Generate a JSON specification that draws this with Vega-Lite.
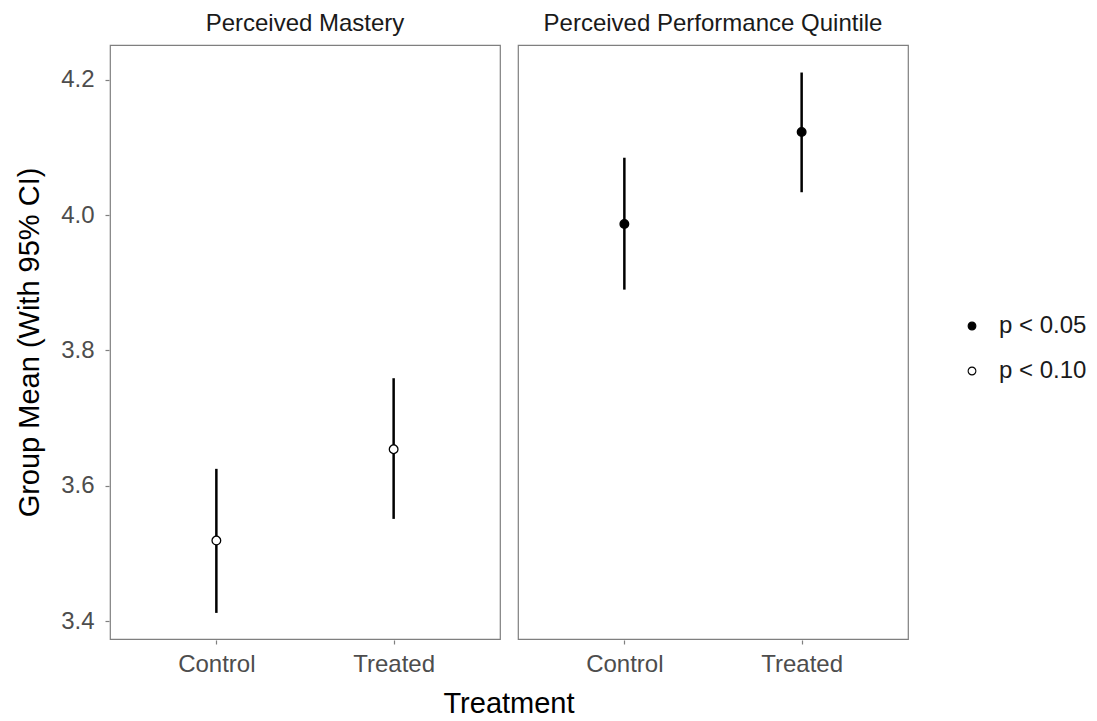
{
  "$schema": "https://vega.github.io/schema/vega-lite/v6.json",
  "background": "white",
  "padding": {"left": 15, "top": 12, "right": 5, "bottom": 5},
  "data": {
    "values": [
      {"facet": "Perceived Mastery", "treatment": "Control", "mean": 3.519, "lo": 3.412, "hi": 3.625, "sig": "p < 0.10"},
      {"facet": "Perceived Mastery", "treatment": "Treated", "mean": 3.654, "lo": 3.551, "hi": 3.759, "sig": "p < 0.10"},
      {"facet": "Perceived Performance Quintile", "treatment": "Control", "mean": 3.987, "lo": 3.890, "hi": 4.085, "sig": "p < 0.05"},
      {"facet": "Perceived Performance Quintile", "treatment": "Treated", "mean": 4.123, "lo": 4.034, "hi": 4.211, "sig": "p < 0.05"}
    ]
  },
  "facet": {
    "column": {
      "field": "facet", "type": "nominal", "title": "Treatment",
      "header": {
        "labelOrient": "top", "labelFontSize": 24, "labelFont": "Liberation Sans", "labelColor": "#1a1a1a", "labelPadding": 8,
        "titleOrient": "bottom", "titleFontSize": 29, "titleFont": "Liberation Sans", "titleColor": "black", "titleFontWeight": "normal", "titlePadding": 4
      }
    }
  },
  "spacing": 16,
  "spec": {
    "width": 390,
    "height": 594,
    "layer": [
      {
        "mark": {"type": "rule", "strokeWidth": 2.5, "color": "black"},
        "encoding": {
          "x": {"field": "treatment", "type": "nominal", "scale": {"type": "point", "padding": 0.6}, "title": null},
          "y": {
            "field": "lo", "type": "quantitative",
            "scale": {"domain": [3.3734, 4.2517], "nice": false, "zero": false},
            "axis": {"values": [3.4, 3.6, 3.8, 4.0, 4.2], "format": ".1f"},
            "title": "Group Mean (With 95% CI)"
          },
          "y2": {"field": "hi"}
        }
      },
      {
        "mark": {"type": "point", "shape": "circle", "filled": true, "size": 75, "stroke": "black", "strokeWidth": 1.3, "opacity": 1},
        "encoding": {
          "x": {"field": "treatment", "type": "nominal", "scale": {"type": "point", "padding": 0.6}, "title": null},
          "y": {"field": "mean", "type": "quantitative"},
          "fill": {
            "field": "sig", "type": "nominal",
            "scale": {"domain": ["p < 0.05", "p < 0.10"], "range": ["black", "white"]},
            "legend": {
              "title": null, "orient": "none", "legendX": 850, "legendY": 269,
              "symbolStrokeColor": "black", "symbolStrokeWidth": 1.1, "symbolSize": 60, "symbolType": "circle",
              "labelFontSize": 24, "labelFont": "Liberation Sans", "labelColor": "#1a1a1a", "rowPadding": 21, "labelOffset": 15
            }
          }
        }
      }
    ]
  },
  "config": {
    "font": "Liberation Sans",
    "view": {"stroke": "#7f7f7f", "strokeWidth": 1.2},
    "axis": {
      "grid": false, "domain": false, "tickSize": 4, "tickColor": "#7f7f7f", "tickWidth": 1.2,
      "labelFontSize": 24, "labelColor": "#4d4d4d", "labelFont": "Liberation Sans",
      "titleFontSize": 29, "titleFont": "Liberation Sans", "titleColor": "black", "titleFontWeight": "normal"
    },
    "axisX": {"labelAngle": 0, "labelPadding": 8},
    "axisY": {"labelPadding": 11, "titlePadding": 16}
  }
}
